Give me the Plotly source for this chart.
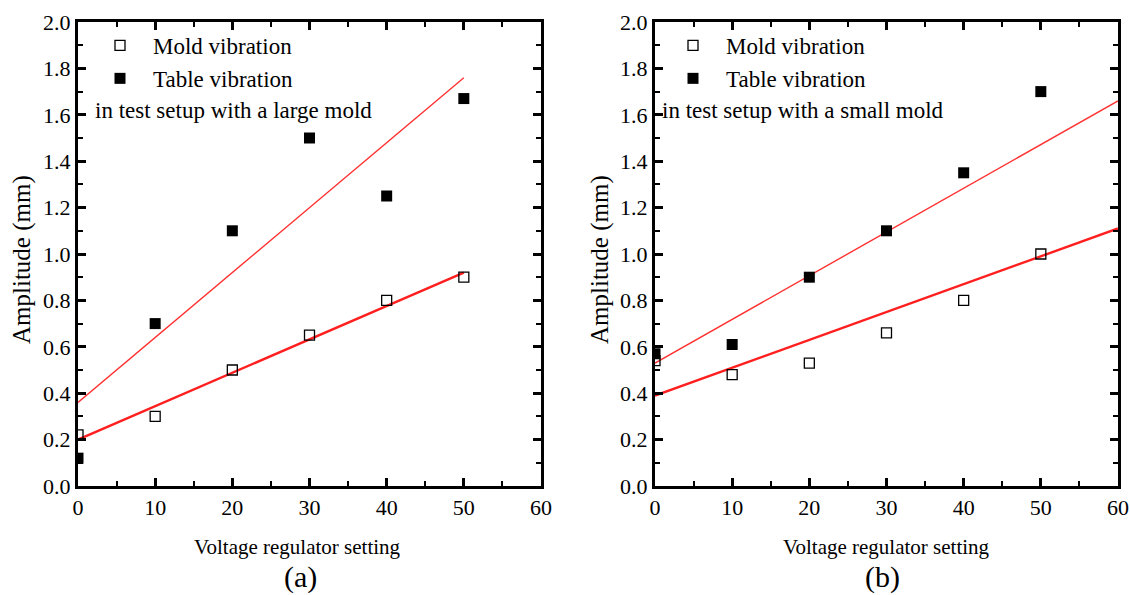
import plotly.graph_objects as go

# ---- data ----
x_settings = [0, 10, 20, 30, 40, 50]

a_mold = [0.22, 0.30, 0.50, 0.65, 0.80, 0.90]
a_table = [0.12, 0.70, 1.10, 1.50, 1.25, 1.67]
b_mold = [0.54, 0.48, 0.53, 0.66, 0.80, 1.00]
b_table = [0.57, 0.61, 0.90, 1.10, 1.35, 1.70]

fit_a_x = [0, 50]
fit_a_mold = [0.20, 0.92]
fit_a_table = [0.36, 1.76]
fit_b_x = [0, 60]
fit_b_mold = [0.39, 1.11]
fit_b_table = [0.53, 1.66]

x_ticks = [0, 10, 20, 30, 40, 50, 60]
y_ticks = [0.0, 0.2, 0.4, 0.6, 0.8, 1.0, 1.2, 1.4, 1.6, 1.8, 2.0]

FONT = "Liberation Serif, Times New Roman, serif"
W, H = 1130, 595
L, R, T, B = 78, 1118, 22, 486  # plot area pixel bounds


def px(xp):
    return (xp - L) / (R - L)


def py(yp):
    return (B - yp) / (B - T)


fig = go.Figure()


def add_panel(xa, ya, mold, table, fx, fm, ft, legend):
    fig.add_trace(go.Scatter(x=fx, y=ft, mode="lines", line=dict(color="#ff3030", width=1.4),
                             xaxis=xa, yaxis=ya, showlegend=False, hoverinfo="skip"))
    fig.add_trace(go.Scatter(x=fx, y=fm, mode="lines", line=dict(color="#ff1f1f", width=2.4),
                             xaxis=xa, yaxis=ya, showlegend=False, hoverinfo="skip"))
    fig.add_trace(go.Scatter(x=x_settings, y=mold, mode="markers", name="Mold vibration",
                             marker=dict(symbol="square-open", size=10, color="black",
                                         line=dict(width=1.3, color="black")),
                             xaxis=xa, yaxis=ya, legend=legend, legendgroup=legend + "m"))
    fig.add_trace(go.Scatter(x=x_settings, y=table, mode="markers", name="Table vibration",
                             marker=dict(symbol="square", size=11, color="black"),
                             xaxis=xa, yaxis=ya, legend=legend, legendgroup=legend + "t"))


add_panel("x", "y", a_mold, a_table, fit_a_x, fit_a_mold, fit_a_table, "legend")
add_panel("x2", "y2", b_mold, b_table, fit_b_x, fit_b_mold, fit_b_table, "legend2")

xdom_a = [0, px(541)]
xdom_b = [px(655), 1]

axis_common = dict(showline=True, linecolor="black", linewidth=3, mirror="allticks",
                   ticks="inside", ticklen=8, tickwidth=3, tickcolor="black",
                   showgrid=False, zeroline=False, automargin=False,
                   tickfont=dict(family=FONT, size=22, color="black"))
xaxis_common = dict(axis_common, range=[0, 60], tickvals=x_ticks,
                    minor=dict(ticks="inside", ticklen=5, tickwidth=2, dtick=5, tick0=0,
                               tickcolor="black", showgrid=False))
yaxis_common = dict(axis_common, range=[0, 2.0], tickvals=y_ticks, tickformat=".1f",
                    minor=dict(ticks="inside", ticklen=5, tickwidth=2, dtick=0.1, tick0=0,
                               tickcolor="black", showgrid=False))

legend_common = dict(font=dict(family=FONT, size=23, color="black"), bgcolor="rgba(0,0,0,0)",
                     traceorder="grouped", tracegroupgap=0, xanchor="left", yanchor="top",
                     itemwidth=56)

ann_font = dict(family=FONT, size=21, color="black")


def ann(text, xp, yp, **kw):
    d = dict(text=text, x=px(xp), y=py(yp), xref="paper", yref="paper", showarrow=False,
             font=ann_font, xanchor="center", yanchor="middle")
    d.update(kw)
    return d


note_font = dict(family=FONT, size=23, color="black")
annotations = [
    ann("Voltage regulator setting", 297, 547),
    ann("Voltage regulator setting", 886, 547),
    ann("(a)", 300, 577, font=dict(family=FONT, size=30, color="black")),
    ann("(b)", 882, 577, font=dict(family=FONT, size=30, color="black")),
    ann("Amplitude (mm)", 22, 260, textangle=-90, font=dict(family=FONT, size=25, color="black")),
    ann("Amplitude (mm)", 600, 260, textangle=-90, font=dict(family=FONT, size=25, color="black")),
    ann("in test setup with a large mold", 93, 110, xanchor="left", font=note_font),
    ann("in test setup with a small mold", 660, 110, xanchor="left", font=note_font),
]

fig.update_layout(
    width=W, height=H, margin=dict(l=L, r=W - R, t=T, b=H - B, autoexpand=False),
    paper_bgcolor="white", plot_bgcolor="white",
    font=dict(family=FONT, color="black"),
    xaxis=dict(xaxis_common, domain=xdom_a, anchor="y"),
    yaxis=dict(yaxis_common, domain=[0, 1], anchor="x"),
    xaxis2=dict(xaxis_common, domain=xdom_b, anchor="y2"),
    yaxis2=dict(yaxis_common, domain=[0, 1], anchor="x2"),
    legend=dict(legend_common, x=px(87), y=py(24)),
    legend2=dict(legend_common, x=px(660), y=py(24)),
    annotations=annotations,
    showlegend=True,
)

fig.write_html("out.html", config={"displayModeBar": False},
               post_script="document.body.style.margin='0px';")
